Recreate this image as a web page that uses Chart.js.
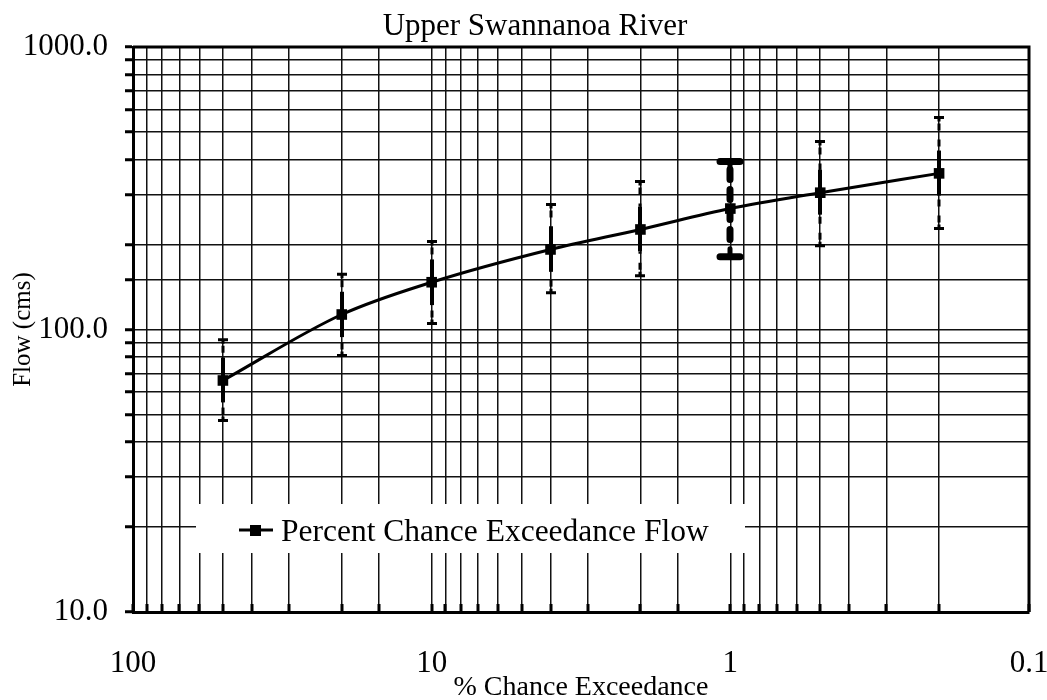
<!DOCTYPE html>
<html>
<head>
<meta charset="utf-8">
<script src="https://cdn.jsdelivr.net/npm/chart.js@4/dist/chart.umd.min.js"></script>
<style>
  html, body { margin: 0; padding: 0; background: #fff; }
  #wrap { width: 1047px; height: 700px; }
</style>
</head>
<body>
<div id="wrap"><canvas id="c" width="1047" height="700"></canvas></div>
<script>
// ---- data ----
const exceedancePct = [50, 20, 10, 4, 2, 1, 0.5, 0.2];
const flowCms       = [66, 113, 147, 192, 226, 268, 305, 357];
const upperOuter    = [92, 157, 205, 277, 334, 393, 463, 563];
const lowerOuter    = [47.6, 80.9, 105, 135, 155, 181, 198, 228];
const upperInner    = [79.6, 136, 177, 232, 272, null, 368, 430];
const lowerInner    = [55.2, 94, 122, 160, 189, null, 255, 298];
const xTickLabels   = [100, 10, 1, 0.1];
const yTickLabels   = [10, 100, 1000];
const chartTitle    = 'Upper Swannanoa River';
const seriesName    = 'Percent Chance Exceedance Flow';
const xTitle        = '% Chance Exceedance';
const yTitle        = 'Flow (cms)';

const FONT = "'Liberation Serif', 'Times New Roman', serif";
const near = (arr, v) => arr.find(t => Math.abs(t - v) / t < 1e-6);

const errorBars = {
  id: 'errorBars',
  beforeDatasetsDraw(chart) {
    const ctx = chart.ctx, xs = chart.scales.x, ys = chart.scales.y;
    ctx.save();
    ctx.strokeStyle = '#000';
    exceedancePct.forEach((p, i) => {
      const x = Math.round(xs.getPixelForValue(p));
      const yt = ys.getPixelForValue(upperOuter[i]);
      const yb = ys.getPixelForValue(lowerOuter[i]);
      const heavy = upperInner[i] === null;
      if (heavy) {
        ctx.lineCap = 'round';
        ctx.lineWidth = 7;
        ctx.setLineDash([10, 10]);
        ctx.beginPath(); ctx.moveTo(x, yt + 8); ctx.lineTo(x, yb - 8); ctx.stroke();
        ctx.setLineDash([]);
        ctx.lineWidth = 7;
        ctx.beginPath();
        ctx.moveTo(x - 10, yt); ctx.lineTo(x + 10, yt);
        ctx.moveTo(x - 10, yb); ctx.lineTo(x + 10, yb);
        ctx.stroke();
        ctx.lineWidth = 5;
        ctx.beginPath();
        ctx.moveTo(x, yt); ctx.lineTo(x, yt + 8);
        ctx.moveTo(x, yb); ctx.lineTo(x, yb - 8);
        ctx.stroke();
      } else {
        const yit = ys.getPixelForValue(upperInner[i]);
        const yib = ys.getPixelForValue(lowerInner[i]);
        ctx.lineCap = 'butt';
        ctx.lineWidth = 3;
        ctx.setLineDash([7, 9]);
        ctx.beginPath(); ctx.moveTo(x, yt + 6); ctx.lineTo(x, yit); ctx.stroke();
        ctx.beginPath(); ctx.moveTo(x, yb - 6); ctx.lineTo(x, yib); ctx.stroke();
        ctx.setLineDash([]);
        ctx.lineWidth = 3;
        ctx.beginPath();
        ctx.moveTo(x - 5, yt); ctx.lineTo(x + 5, yt);
        ctx.moveTo(x - 5, yb); ctx.lineTo(x + 5, yb);
        ctx.stroke();
        ctx.beginPath();
        ctx.moveTo(x, yt); ctx.lineTo(x, yt + 4);
        ctx.moveTo(x, yb); ctx.lineTo(x, yb - 4);
        ctx.stroke();
        ctx.lineWidth = 4;
        ctx.beginPath(); ctx.moveTo(x, yit); ctx.lineTo(x, yib); ctx.stroke();
      }
    });
    ctx.restore();
  }
};

const decorations = {
  id: 'decorations',
  afterDraw(chart) {
    const ctx = chart.ctx, a = chart.chartArea, xs = chart.scales.x;
    ctx.save();
    // inside tick marks on the bottom axis
    ctx.fillStyle = '#000';
    xs.ticks.forEach(t => {
      const x = Math.round(xs.getPixelForValue(t.value));
      ctx.fillRect(x - 1.5, a.bottom - 8, 3, 8);
    });
    // top and right frame
    ctx.strokeStyle = '#000';
    ctx.lineWidth = 3;
    ctx.beginPath();
    ctx.moveTo(a.left, a.top); ctx.lineTo(a.right, a.top); ctx.lineTo(a.right, a.bottom);
    ctx.stroke();
    // title
    ctx.fillStyle = '#000';
    ctx.font = '31px ' + FONT;
    ctx.textAlign = 'center';
    ctx.textBaseline = 'alphabetic';
    ctx.fillText(chartTitle, 535, 35);
    // legend box
    ctx.fillStyle = '#fff';
    ctx.fillRect(196, 504, 549, 49);
    ctx.strokeStyle = '#000';
    ctx.lineWidth = 3;
    ctx.beginPath(); ctx.moveTo(239, 530); ctx.lineTo(273, 530); ctx.stroke();
    ctx.fillStyle = '#000';
    ctx.fillRect(250, 525, 11, 11);
    ctx.font = '31.5px ' + FONT;
    ctx.textAlign = 'left';
    ctx.fillText(seriesName, 281, 541);
    ctx.restore();
  }
};

new Chart(document.getElementById('c'), {
  type: 'scatter',
  data: {
    datasets: [{
      label: seriesName,
      data: exceedancePct.map((p, i) => ({ x: p, y: flowCms[i] })),
      showLine: true,
      borderColor: '#000',
      borderWidth: 3,
      backgroundColor: '#000',
      pointStyle: 'rect',
      pointRadius: 7.5,
      pointBorderWidth: 0,
      pointBackgroundColor: '#000',
      cubicInterpolationMode: 'monotone'
    }]
  },
  options: {
    responsive: false,
    animation: false,
    devicePixelRatio: 1,
    layout: { padding: { top: 47, right: 18, left: 0, bottom: 0 } },
    plugins: {
      legend: { display: false },
      title: { display: false },
      tooltip: { enabled: false }
    },
    scales: {
      x: {
        type: 'logarithmic',
        reverse: true,
        min: 0.1,
        max: 100,
        position: 'bottom',
        grid: { color: '#111', lineWidth: 1.5, drawTicks: false },
        border: { display: true, color: '#000', width: 3 },
        ticks: {
          autoSkip: false, maxRotation: 0, padding: 33, color: '#000',
          font: { family: FONT, size: 31 },
          callback: v => { const t = near(xTickLabels, v); return t !== undefined ? String(t) : ''; }
        },
        title: { display: true, text: xTitle, color: '#000', font: { family: FONT, size: 28, lineHeight: 0.9 }, padding: { top: 0, bottom: 0 } },
        afterFit: s => { s.height = 88; s.paddingLeft = 0; s.paddingRight = 0; }
      },
      y: {
        type: 'logarithmic',
        min: 10,
        max: 1000,
        grid: { color: '#111', lineWidth: 1.5, tickLength: 8, tickWidth: 3, tickColor: '#000' },
        border: { display: true, color: '#000', width: 3 },
        ticks: {
          autoSkip: false, padding: 17, color: '#000',
          font: { family: FONT, size: 31 },
          callback: v => { const t = near(yTickLabels, v); return t !== undefined ? t.toFixed(1) : ''; }
        },
        title: { display: true, text: yTitle, color: '#000', font: { family: FONT, size: 25 }, padding: { top: 8, bottom: 0 } },
        afterFit: s => { s.width = 133; s.paddingTop = 0; s.paddingBottom = 0; }
      }
    }
  },
  plugins: [errorBars, decorations]
});
</script>
</body>
</html>
